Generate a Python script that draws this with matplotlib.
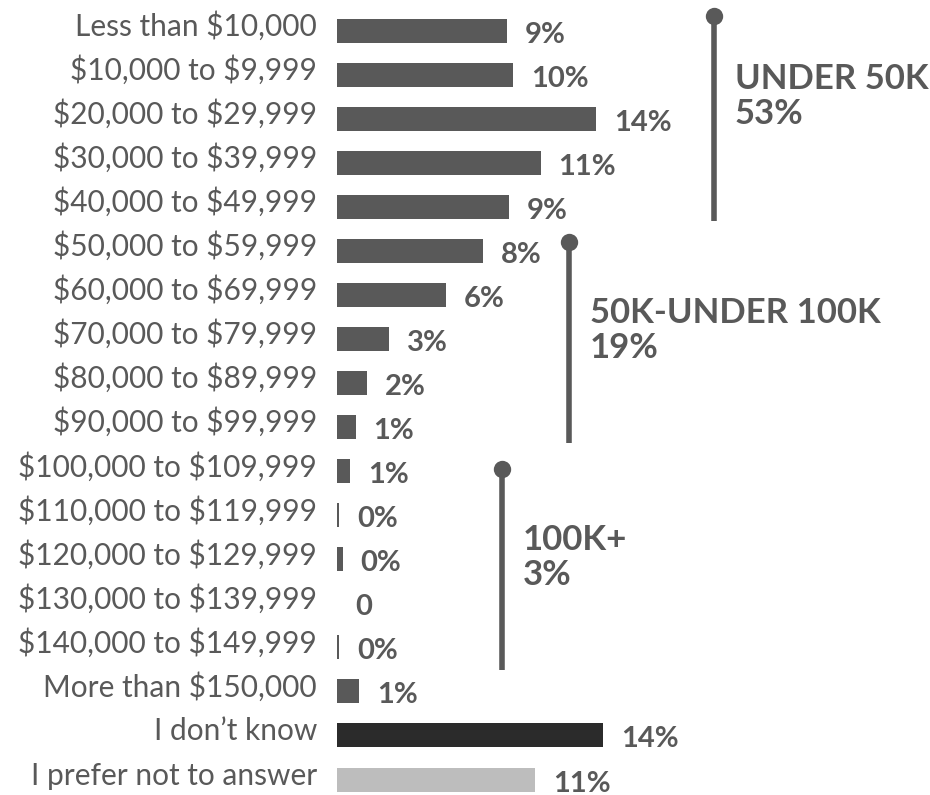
import matplotlib
matplotlib.use("Agg")
import matplotlib.pyplot as plt

categories = ["Less than $10,000", "$10,000 to $9,999", "$20,000 to $29,999",
              "$30,000 to $39,999", "$40,000 to $49,999", "$50,000 to $59,999",
              "$60,000 to $69,999", "$70,000 to $79,999", "$80,000 to $89,999",
              "$90,000 to $99,999", "$100,000 to $109,999", "$110,000 to $119,999",
              "$120,000 to $129,999", "$130,000 to $139,999", "$140,000 to $149,999",
              "More than $150,000", "I don\u2019t know", "I prefer not to answer"]
values = [9.2, 9.5, 14.0, 11.0, 9.3, 7.9, 5.9, 2.8, 1.6, 1.0,
          0.7, 0.1, 0.3, 0.0, 0.1, 1.2, 14.4, 10.7]
value_labels = ["9%", "10%", "14%", "11%", "9%", "8%", "6%", "3%", "2%", "1%",
                "1%", "0%", "0%", "0", "0%", "1%", "14%", "11%"]
group_names = ["UNDER 50K", "50K-UNDER 100K", "100K+"]
group_totals = ["53%", "19%", "3%"]

# ---- layout / style ----
W, H, DPI = 930, 795, 100
PX_PER_UNIT = 18.5
AX_LEFT_PX = 337
ROW0_PX = 31.0
ROW_STEP_PX = 44.03
GRAY = "#595959"
bar_colors = [GRAY] * 16 + ["#2b2b2b", "#bdbdbd"]
bracket_x = [20.38, 12.54, 8.92]
bracket_top = [-0.34, 4.79, 9.95]
bracket_bottom = [4.32, 9.36, 14.51]
group_text_row = [1.317, 6.63, 11.79]

fig = plt.figure(figsize=(W / DPI, H / DPI), dpi=DPI)
ax = fig.add_axes([AX_LEFT_PX / W, 0, 1 - AX_LEFT_PX / W, 1])
ax.set_xlim(0, (W - AX_LEFT_PX) / PX_PER_UNIT)
ax.set_ylim((H - ROW0_PX) / ROW_STEP_PX, -ROW0_PX / ROW_STEP_PX)
ax.axis("off")

rows = list(range(len(categories)))
ax.barh(rows, values, height=24 / ROW_STEP_PX, color=bar_colors, linewidth=0)

row_unit = 1 / ROW_STEP_PX  # rows per pixel
for i, (cat, v, lbl) in enumerate(zip(categories, values, value_labels)):
    ax.text(-20 / PX_PER_UNIT, i + 5 * row_unit, cat, ha="right", va="baseline",
            fontsize=21.5, color=GRAY, family="Lato", fontweight="normal",
            clip_on=False, parse_math=False)
    ax.text(v + 18 / PX_PER_UNIT, i + 12 * row_unit, lbl, ha="left", va="baseline",
            fontsize=21, color=GRAY, family="Lato", fontweight="bold",
            parse_math=False)

for gx, gt, gb, gr, name, tot in zip(bracket_x, bracket_top, bracket_bottom,
                                     group_text_row, group_names, group_totals):
    ax.plot([gx, gx], [gt, gb], color=GRAY, lw=4, solid_capstyle="butt")
    ax.plot([gx], [gt], marker="o", ms=12.5, color=GRAY, mew=0)
    tx = gx + 21 / PX_PER_UNIT
    ax.text(tx, gr, name, ha="left", va="baseline", fontsize=25, color=GRAY,
            family="Lato", fontweight="bold")
    ax.text(tx, gr + 35 * row_unit, tot, ha="left", va="baseline", fontsize=25,
            color=GRAY, family="Lato", fontweight="bold")

fig.savefig("out.png", dpi=DPI)
